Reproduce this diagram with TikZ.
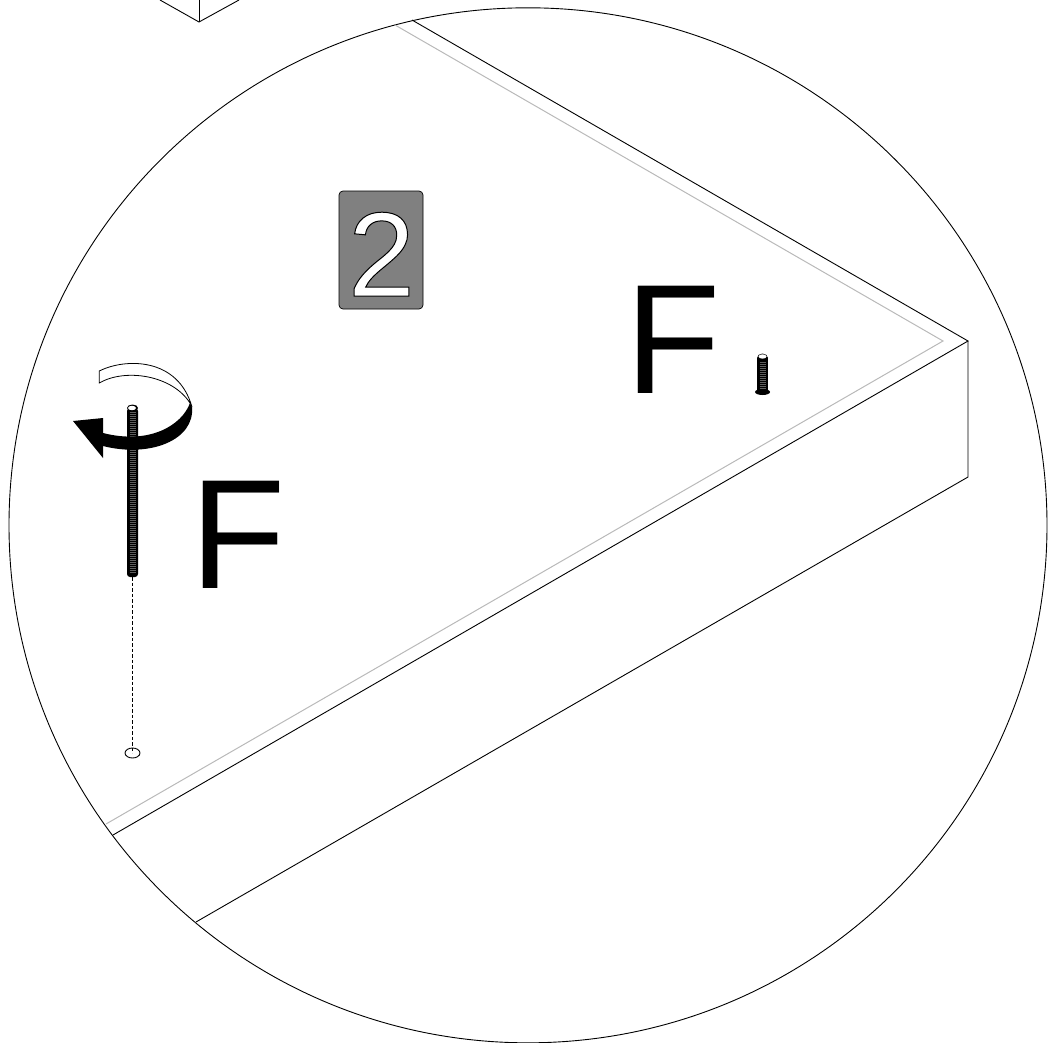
\documentclass[tikz,border=0pt]{standalone}
\usepackage{fontspec}
\usetikzlibrary{shapes.geometric}
\setmainfont{Liberation Sans}
\tikzset{
  edge/.style={line width=0.9pt,black},
  greyedge/.style={line width=1pt,color={rgb,255:red,185;green,185;blue,185}},
  thread/.style={line width=0.6pt,color={rgb,255:red,95;green,95;blue,95}},
  letter/.style={anchor=base west,inner sep=0pt,font=\fontsize{156}{156}\selectfont},
}
\begin{document}
\begin{tikzpicture}[x=1pt,y=-1pt]
\useasboundingbox (0,0) rectangle (1058,1042);
\clip (0,0) rectangle (1058,1042);
% lens
\coordinate (cc) at (528,525.3);
\draw[edge] (cc) ellipse[x radius=519pt,y radius=517.5pt];
% box above
\coordinate (ba) at (199,22);
\draw[edge] (160,0) -- (ba) -- (239,0);
\draw[edge] (ba) -- (199,0);
% panel
\coordinate (apex) at (968,341);
\coordinate (apexl) at (968,477);
\coordinate (gapex) at (943,341);
\draw[greyedge] (395,25) -- (gapex) -- (106,824);
\draw[edge] (412,20) -- (apex) -- (113,835);
\draw[edge] (apex) -- (apexl) -- (196,922);
% label
\node[draw=black,line width=0.7pt,fill={rgb,255:red,128;green,128;blue,128},rounded corners=4pt,minimum width=84pt,minimum height=118pt,inner sep=0pt] (badge) at (381,250) {};
\node[anchor=base,inner sep=0pt,font=\fontsize{120}{120}\selectfont] (two) at (381.5,296) {\special{pdf:code q 1 1 1 rg 0 0 0 RG 1 w 2 Tr}2\special{pdf:code 0 Tr Q}};
\node[letter] (f1) at (625,393) {F};
\node[letter] (f2) at (190.5,588) {F};
% hole and dashed guide
\node[draw=black,line width=0.9pt,ellipse,minimum width=15pt,minimum height=10pt,inner sep=0pt] (hole) at (132.5,753) {};
\coordinate (boltend) at (132.5,577);
\draw[line width=0.9pt,dash pattern=on 3.5pt off 2pt] (boltend) -- (132.5,753);
% long bolt
\fill[black,rounded corners=3pt] (127,408) rectangle (138,577);
\foreach \yy in {412,414,...,572} \draw[thread] (129.5,\yy) -- (135.5,\yy);
\fill[black] (132.5,408) ellipse[x radius=5.5pt,y radius=3.5pt];
\fill[white] (132,408) ellipse[x radius=4pt,y radius=2.2pt];
% turning arrow: black band and head
\fill[black] (190,403) .. controls (182,425) and (150,445) .. (103,433)
  -- (103,418) -- (73,421) -- (103,458) -- (103,446)
  .. controls (150,458) and (195,440) .. (192,407) -- cycle;
% turning arrow: white band
\draw[line width=0.8pt,fill=white] (99.3,371) .. controls (125,358) and (178,357) .. (192,407)
  -- (190,403) .. controls (172,375) and (125,368) .. (99.3,383) -- cycle;
% short bolt
\fill[black] (757,358) rectangle (768,392);
\fill[black] (762.5,358) ellipse[x radius=5.5pt,y radius=4.5pt];
\fill[black] (762.5,392) ellipse[x radius=7.5pt,y radius=3pt];
\foreach \yy in {362,364,...,388} \draw[thread] (759.5,\yy) -- (765.5,\yy);
\fill[white] (762.5,356.5) ellipse[x radius=4pt,y radius=2.2pt];
\end{tikzpicture}
\end{document}
